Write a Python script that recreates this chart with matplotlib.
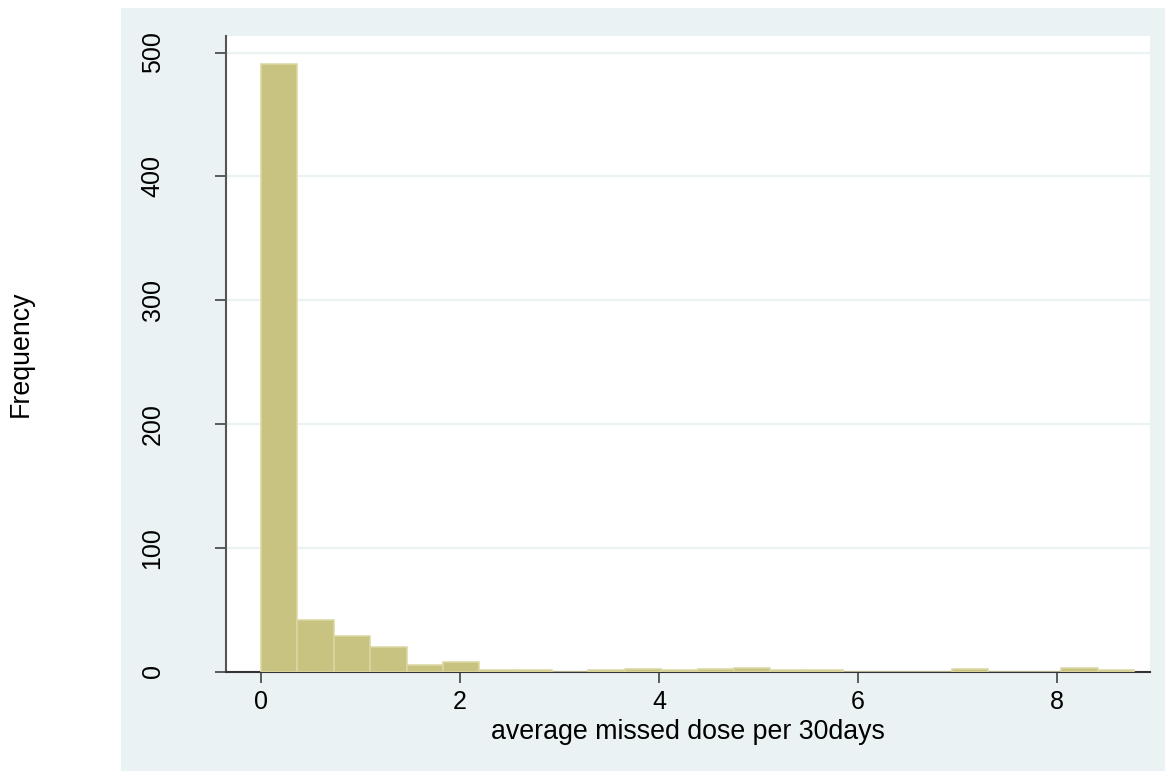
import numpy as np
import matplotlib.pyplot as plt
from matplotlib.patches import Rectangle

plt.rcParams['font.family'] = ['Liberation Sans', 'DejaVu Sans']

# histogram counts (24 bins, from 0 to ~8.77)
counts = [491, 42, 29, 20, 5, 8, 1, 1, 0, 1, 2, 1,
          2, 3, 1, 1, 0, 0, 0, 2, 0, 0, 3, 1]
x_min = 0.0
x_max = 8.774
xticks = [0, 2, 4, 6, 8]
yticks = [0, 100, 200, 300, 400, 500]
xlabel = 'average missed dose per 30days'
ylabel = 'Frequency'

edges = np.linspace(x_min, x_max, len(counts) + 1)
widths = np.diff(edges)

fig = plt.figure(figsize=(11.65, 7.71), dpi=100, facecolor='white')
# light panel behind the plot (Stata style)
fig.patches.append(Rectangle((121 / 1165, 0), 1 - 121 / 1165, 1 - 8 / 771,
                             transform=fig.transFigure, facecolor='#EAF2F3',
                             edgecolor='none', zorder=-5))

ax = fig.add_axes([225.7 / 1165, 1 - 671.5 / 771,
                   (1150 - 225.7) / 1165, (671.5 - 35.7) / 771])
ax.set_facecolor('white')

ax.bar(edges[:-1], counts, width=widths, align='edge',
       color='#C9C381', edgecolor='#DAD7A2', linewidth=1.1, zorder=3)

ax.set_xlim(-0.355, 8.935)
ax.set_ylim(0, 513.6)
ax.set_xticks(xticks)
ax.set_yticks(yticks)
for y in yticks[1:]:
    ax.axhline(y, color='#EAF2F3', linewidth=1.6, zorder=1)

for s in ['top', 'right']:
    ax.spines[s].set_visible(False)
ax.spines['left'].set_color('#555555')
ax.spines['bottom'].set_color('#333333')
ax.spines['left'].set_linewidth(1.5)
ax.spines['bottom'].set_linewidth(1.5)

ax.tick_params(axis='x', length=8, width=1.1, color='#333333', pad=5, labelsize=18)
ax.tick_params(axis='y', length=8, width=1.1, color='#333333', pad=36, labelsize=18,
               labelrotation=90)
for lab in ax.get_yticklabels():
    lab.set_verticalalignment('center')

ax.set_xlabel(xlabel, fontsize=19.3, labelpad=4)
ax.set_ylabel(ylabel, fontsize=19.3)
ax.yaxis.set_label_coords(-(225.7 - 34) / (1150 - 225.7), 0.5)

fig.savefig('out.png', dpi=100, facecolor='white')
